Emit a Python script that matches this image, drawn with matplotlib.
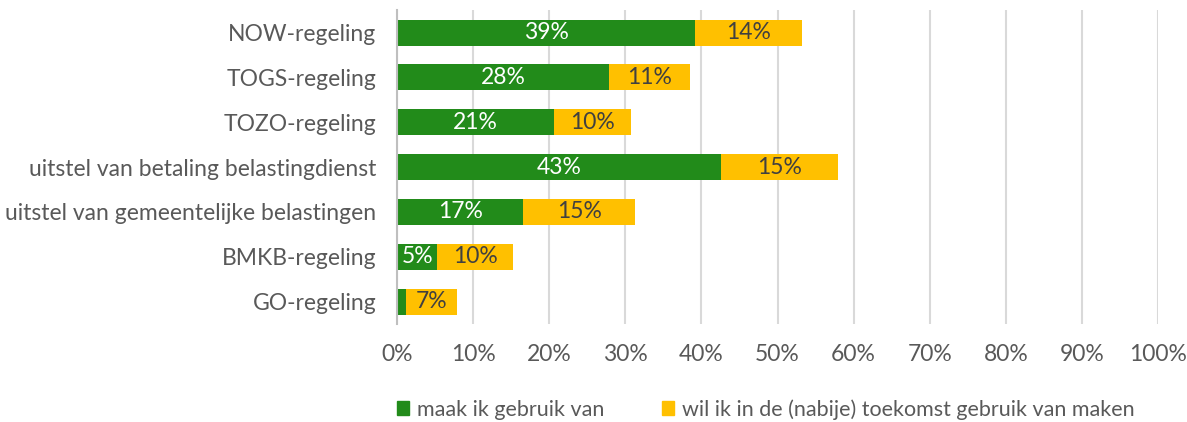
import matplotlib.pyplot as plt
import numpy as np
from matplotlib.patches import Patch

# data (percent)
categories = ['NOW-regeling', 'TOGS-regeling', 'TOZO-regeling',
              'uitstel van betaling belastingdienst',
              'uitstel van gemeentelijke belastingen',
              'BMKB-regeling', 'GO-regeling']
gebruik = [39.2, 27.9, 20.6, 42.6, 16.6, 5.3, 1.2]
toekomst = [14.0, 10.6, 10.1, 15.3, 14.7, 9.9, 6.7]
series_names = ['maak ik gebruik van',
                'wil ik in de (nabije) toekomst gebruik van maken']

green = '#228B1A'
yellow = '#FFC000'
grey = '#595959'

plt.rcParams['font.family'] = ['Lato', 'DejaVu Sans']

fig = plt.figure(figsize=(11.87, 4.22), dpi=100)
ax = fig.add_axes([0.3345, 0.232, 0.9756 - 0.3345, 0.744])

y = np.arange(len(categories))
h = 0.58
b1 = ax.barh(y, gebruik, height=h, color=green)
b2 = ax.barh(y, toekomst, left=gebruik, height=h, color=yellow)

fs = 16.5
for i in range(len(categories)):
    if gebruik[i] >= 3:
        ax.text(gebruik[i] / 2, y[i], '%d%%' % round(gebruik[i]),
                ha='center', va='center', color='white', fontsize=fs)
    ax.text(gebruik[i] + toekomst[i] / 2, y[i], '%d%%' % round(toekomst[i]),
            ha='center', va='center', color='#404040', fontsize=fs)

ax.set_xlim(0, 100)
ax.set_ylim(len(categories) - 0.5, -0.5)
ax.set_xticks(np.arange(0, 101, 10))
ax.set_xticklabels(['%d%%' % v for v in range(0, 101, 10)])
ax.set_yticks(y)
ax.set_yticklabels(categories)
ax.tick_params(axis='both', length=0, labelsize=fs, labelcolor=grey)
ax.tick_params(axis='x', pad=14)
ax.tick_params(axis='y', pad=15)

ax.grid(axis='x', color='#D9D9D9', linewidth=1.5)
ax.set_axisbelow(True)
for s in ['top', 'right', 'bottom']:
    ax.spines[s].set_visible(False)
ax.spines['left'].set_color('#BFBFBF')
ax.spines['left'].set_linewidth(1.5)

handles = [Patch(color=green), Patch(color=yellow)]
fig.legend(handles, series_names, loc='center', bbox_to_anchor=(0.645, 0.03),
           ncol=2, frameon=False, fontsize=15.5, labelcolor=grey,
           handlelength=0.56, handleheight=0.56, handletextpad=0.37,
           columnspacing=2.65)

fig.savefig('out.png', dpi=100)
